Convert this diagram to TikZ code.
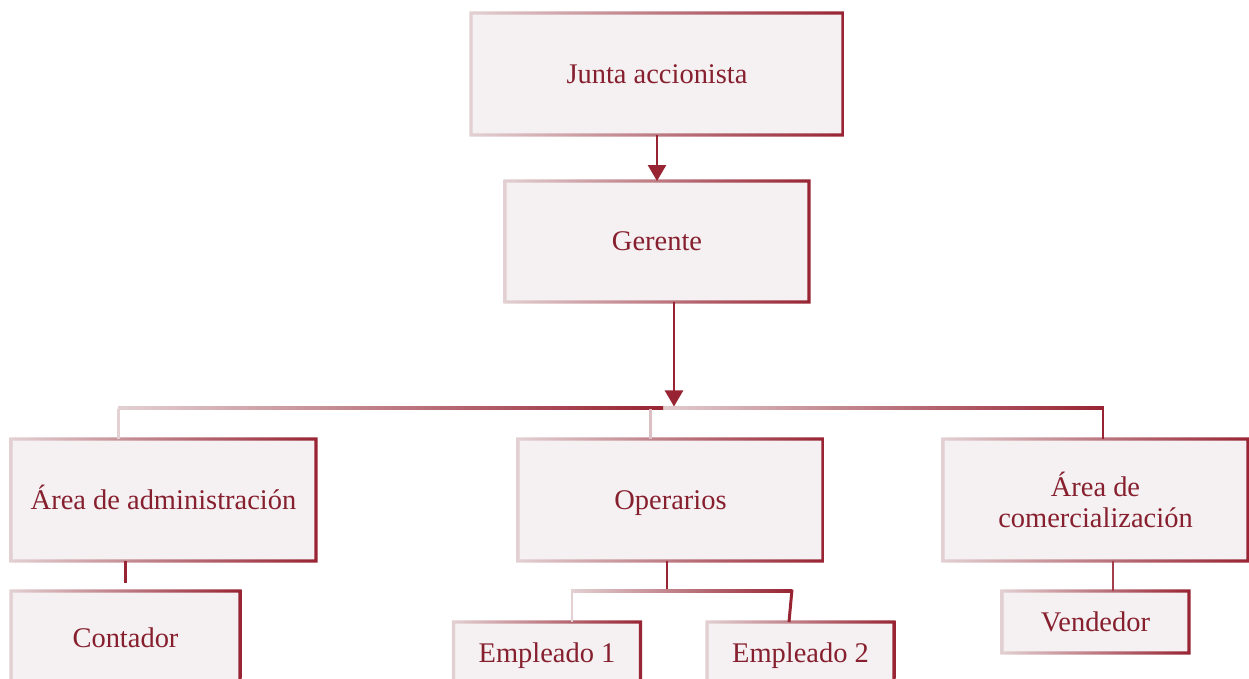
\documentclass[tikz,border=0pt]{standalone}
\usepackage{fontspec}
\setmainfont{Liberation Serif}
\usetikzlibrary{arrows.meta}

\definecolor{deep}{HTML}{982433}
\definecolor{lite}{HTML}{E2D0D2}
\definecolor{boxfill}{HTML}{F5F0F1}
\definecolor{ink}{HTML}{86202F}

\tikzset{
  orgbox/.style={fill=boxfill, text=ink, align=center, inner sep=0pt, outer sep=0pt,
    text height=12.5pt, text depth=2.2pt, font=\fontsize{16.2}{17.6}\selectfont},
  bigbox/.style={orgbox, minimum width=6.1cm, minimum height=2.44cm},
  smallbox/.style={orgbox, minimum width=3.74cm, minimum height=1.24cm},
  link/.style={line width=1.7pt},
  arrowlink/.style={line width=1.5pt, deep, -{Triangle[width=0.36cm,length=0.32cm]}},
}

% frame of a box, light on the left and dark on the right
\newcommand\gradframe[1]{%
  \shade[left color=lite, right color=deep, even odd rule]
    ([shift={(-0.9pt,-0.9pt)}]#1.south west) rectangle ([shift={(0.9pt,0.9pt)}]#1.north east)
    ([shift={(0.9pt,0.9pt)}]#1.south west) rectangle ([shift={(-0.9pt,-0.9pt)}]#1.north east);}
% horizontal bar between two named points at the same height
\newcommand\gradbar[2]{%
  \shade[left color=lite, right color=deep]
    ([yshift=-0.85pt]#1) rectangle ([yshift=0.85pt]#2);}

\begin{document}
\begin{tikzpicture}[x=0.02cm, y=-0.02cm]
    \useasboundingbox (0,0) rectangle (1249,679);
    % boxes
    \node[orgbox, minimum width=7.44cm, minimum height=2.44cm] (junta) at (657,74) {Junta accionista};
    \node[orgbox, minimum width=6.08cm, minimum height=2.42cm] (gerente) at (657,241.5) {Gerente};
    \node[bigbox] (adm) at (163.5,500) {Área de administración};
    \node[bigbox] (oper) at (670.5,500) {Operarios};
    \node[bigbox, text height=, text depth=] (comer) at (1095.5,500) {Área de\\comercialización};
    \node[orgbox, minimum width=4.58cm, minimum height=1.88cm] (cont) at (125.5,638) {Contador};
    \node[smallbox] (emp1) at (547,653) {Empleado 1};
    \node[smallbox] (emp2) at (800.5,653) {Empleado 2};
    \node[smallbox] (vend) at (1095.5,622) {Vendedor};
    \foreach \n in {junta,gerente,adm,oper,comer,cont,emp1,emp2,vend}
        \gradframe{\n};

    % junta -> gerente -> areas
    \coordinate (hub) at ([xshift=0.34cm,yshift=-2.12cm]gerente.south);
    \coordinate (admin-in) at ([xshift=-0.91cm]adm.north);
    \coordinate (oper-in) at ([xshift=-0.41cm]oper.north);
    \coordinate (comer-in) at ([xshift=0.15cm]comer.north);
    \coordinate (barL) at (admin-in |- hub);
    \coordinate (barM) at ([xshift=-0.22cm]hub);
    \coordinate (barO) at (oper-in |- hub);
    \coordinate (barR) at (comer-in |- hub);
    \gradbar{barO}{barR}
    \gradbar{barL}{barM}
    \draw[link, lite] (admin-in) -- ([yshift=-0.85pt]barL);
    \draw[link, lite!90!deep] (oper-in) -- ([yshift=-0.85pt]barO);
    \draw[link, deep] (comer-in) -- ([yshift=0.85pt]barR);
    \draw[arrowlink] (junta) -- (gerente);
    \draw[arrowlink] (gerente.south -| hub) -- ([yshift=0.85pt]hub);

    % areas -> staff
    \draw[link, deep] (adm.south -| cont.north) -- ([yshift=0.16cm]cont.north);
    \coordinate (opbar) at ([xshift=-0.07cm,yshift=-0.6cm]oper.south);
    \coordinate (emp1-in) at ([xshift=0.5cm]emp1.north);
    \coordinate (emp2-in) at ([xshift=-0.23cm]emp2.north);
    \coordinate (opL) at (emp1-in |- opbar);
    \coordinate (opR) at ([xshift=-0.17cm]emp2.north |- opbar);
    \draw[link, deep] ([xshift=-0.07cm]oper.south) -- (opbar);
    \gradbar{opL}{opR}
    \draw[link, lite] ([yshift=0.85pt]opL) -- (emp1-in);
    \draw[link, deep] ([yshift=0.85pt]opR) -- (emp2-in);
    \coordinate (comer-out) at ([xshift=0.35cm]comer.south);
    \draw[link, deep!85!lite] (comer-out) -- (vend.north -| comer-out);
\end{tikzpicture}
\end{document}
